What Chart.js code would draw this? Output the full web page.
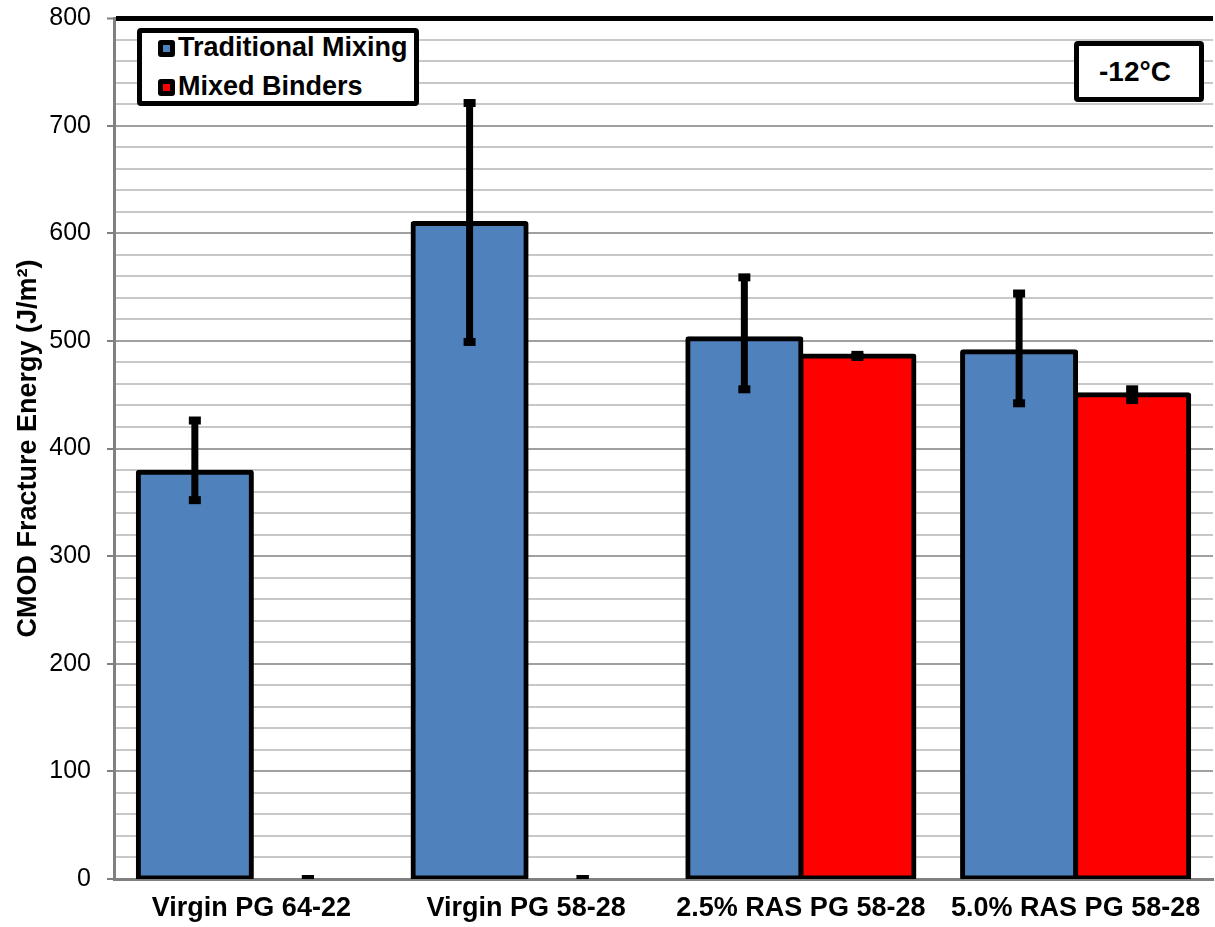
<!DOCTYPE html>
<html>
<head>
<meta charset="utf-8">
<script src="https://cdn.jsdelivr.net/npm/chart.js@4"></script>
<style>
  body { margin: 0; background: #fff; font-family: "Liberation Sans", Arial, sans-serif; }
  #wrap { position: relative; width: 1215px; height: 927px; }
  .box { position: absolute; background: #fff; border: 5px solid #000; border-radius: 4px; box-sizing: border-box; font-weight: bold; font-size: 27px; color: #000; }
  #legend { left: 137px; top: 28px; width: 282px; height: 78px; }
  .item { position: absolute; left: 16px; height: 30px; line-height: 30px; white-space: nowrap; }
  .mark { display: inline-block; width: 17px; height: 17px; background: #000; border-radius: 3px; position: relative; vertical-align: -1px; margin-right: 3px; }
  .mark i { position: absolute; left: 5px; top: 5px; width: 7px; height: 7px; }
  #temp { left: 1074px; top: 41px; width: 130px; height: 61px; text-align: center; line-height: 51px; font-size: 28px; padding-right: 8px; }
</style>
</head>
<body>
<div id="wrap">
  <canvas id="chart" width="1215" height="927"></canvas>
  <div id="legend" class="box"></div>
  <div id="temp" class="box">-12°C</div>
</div>
<script>
// ---- dados ----
const categorias = ['Virgin PG 64-22', 'Virgin PG 58-28', '2.5% RAS PG 58-28', '5.0% RAS PG 58-28'];
const nomesSeries = ['Traditional Mixing', 'Mixed Binders'];
const coresSeries = ['#4F81BD', '#FF0000'];

const tradicional    = [378, 609, 502, 490];
const tradicionalMin = [352, 499, 455, 442];
const tradicionalMax = [426, 721, 559, 544];

const misturado    = [0, 0, 486, 450];
const misturadoMin = [0, 0, 485, 445];
const misturadoMax = [0, 0, 487, 455];

const yTicks = [0, 100, 200, 300, 400, 500, 600, 700, 800];
const tituloY = 'CMOD Fracture Energy (J/m²)';

const FONTE = '"Liberation Sans", Arial, sans-serif';

// legenda em HTML
const leg = document.getElementById('legend');
nomesSeries.forEach((nome, i) => {
  const d = document.createElement('div');
  d.className = 'item';
  d.style.top = (-1 + i * 39) + 'px';
  d.innerHTML = '<span class="mark"><i style="background:' + coresSeries[i] + '"></i></span>' + nome;
  leg.appendChild(d);
});

// barras de erro desenhadas pelas escalas do Chart.js
const errosPorSerie = [
  { min: tradicionalMin, max: tradicionalMax },
  { min: misturadoMin, max: misturadoMax },
];
const barrasErro = {
  id: 'barrasErro',
  afterDatasetsDraw(chart) {
    const ctx = chart.ctx;
    const y = chart.scales.y;
    const area = chart.chartArea;
    ctx.save();
    ctx.beginPath();
    ctx.rect(area.left, area.top, area.right - area.left, area.bottom - area.top);
    ctx.clip();
    ctx.fillStyle = '#000';
    ctx.strokeStyle = '#000';
    ctx.lineWidth = 7;
    chart.data.datasets.forEach((ds, i) => {
      const meta = chart.getDatasetMeta(i);
      const err = errosPorSerie[i];
      meta.data.forEach((bar, j) => {
        const yLo = y.getPixelForValue(err.min[j]);
        const yHi = y.getPixelForValue(err.max[j]);
        ctx.beginPath();
        ctx.moveTo(bar.x, yLo);
        ctx.lineTo(bar.x, yHi);
        ctx.stroke();
        ctx.fillRect(bar.x - 6, yHi - 4, 12, 8);
        ctx.fillRect(bar.x - 6, yLo - 4, 12, 8);
      });
    });
    ctx.restore();
  }
};

new Chart(document.getElementById('chart'), {
  type: 'bar',
  data: {
    labels: categorias,
    datasets: [
      { label: nomesSeries[0], data: tradicional, backgroundColor: coresSeries[0] },
      { label: nomesSeries[1], data: misturado, backgroundColor: coresSeries[1] },
    ]
  },
  options: {
    responsive: false,
    animation: false,
    layout: { padding: { top: 18, right: 2, left: 0, bottom: 0 } },
    datasets: {
      bar: {
        borderColor: '#000',
        borderWidth: 5,
        borderRadius: 3,
        borderSkipped: false,
        inflateAmount: 2.5,
        categoryPercentage: 0.823,
        barPercentage: 1,
      }
    },
    plugins: {
      legend: { display: false },
      tooltip: { enabled: false },
    },
    scales: {
      x: {
        grid: { display: false, drawTicks: false },
        border: { display: true, color: '#808080', width: 3 },
        ticks: { color: '#000', font: { family: FONTE, size: 27, weight: 'bold' }, padding: 13, maxRotation: 0 },
        afterFit: s => { s.height = 48; },
      },
      y: {
        min: 0,
        max: 800,
        ticks: {
          stepSize: 20,
          autoSkip: false,
          color: '#000',
          padding: 16,
          font: { family: FONTE, size: 25 },
          callback: v => yTicks.includes(v) ? v : '',
        },
        grid: {
          color: c => c.tick.value === 800 ? '#000' : (c.tick.value % 100 === 0 ? '#A0A0A0' : '#C8C8C8'),
          lineWidth: c => c.tick.value === 800 ? 5 : 2,
          tickColor: c => c.tick.value % 100 === 0 ? '#808080' : 'rgba(0,0,0,0)',
          tickLength: 7,
          tickWidth: 2,
        },
        border: { display: true, color: '#808080', width: 3 },
        title: {
          display: true,
          text: tituloY,
          color: '#000',
          font: { family: FONTE, size: 27, weight: 'bold' },
          padding: { top: 12, bottom: 0 },
        },
        afterFit: s => { s.width = 114; s.paddingTop = 0; s.paddingBottom = 0; },
      }
    }
  },
  plugins: [barrasErro]
});
</script>
</body>
</html>
